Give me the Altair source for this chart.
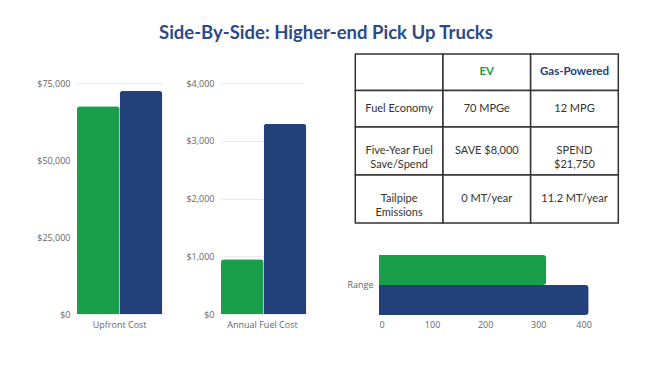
import altair as alt
import pandas as pd

# ---------------- data ----------------
fuels = ["EV", "Gas-Powered"]
fuel_colors = ["#199e49", "#22417b"]

upfront_cost = [67500, 72500]
upfront_ticks = [0, 25000, 50000, 75000]

annual_fuel_cost = [950, 3300]
annual_ticks = [0, 1000, 2000, 3000, 4000]

range_miles = [315, 395]
range_ticks = [0, 100, 200, 300, 400]

table_header = ["", "EV", "Gas-Powered"]
table_labels = ["Fuel Economy", "Five-Year Fuel\nSave/Spend", "Tailpipe\nEmissions"]
table_ev = ["70 MPGe", "SAVE $8,000", "0 MT/year"]
table_gas = ["12 MPG", "SPEND\n$21,750", "11.2 MT/year"]

title_text = "Side-By-Side: Higher-end Pick Up Trucks"

# ---------------- style ----------------
AXIS_FONT = "Open Sans"
TABLE_FONT = "Lato"
TITLE_COLOR = "#2b4a8b"
TEXT_COLOR = "#333333"
GRID_COLOR = "#ebebeb"
PANEL_H = 261
BAR_TOP = 29.3
BAR_BASE = 260

color_enc = alt.Color("fuel:N", scale=alt.Scale(domain=fuels, range=fuel_colors), legend=None)


def cost_chart(metric, values, ticks, band_w, group_w):
    df = pd.DataFrame({"metric": metric, "fuel": fuels, "value": values})
    return alt.Chart(df).mark_bar(cornerRadiusEnd=3).encode(
        x=alt.X("metric:N", title=None,
                scale=alt.Scale(paddingInner=0, paddingOuter=0, range=[0, band_w]),
                axis=alt.Axis(labelAngle=0, ticks=False, domain=False, labelPadding=5, grid=False)),
        xOffset=alt.XOffset("fuel:N", sort=fuels, scale=alt.Scale(paddingInner=0, paddingOuter=0)),
        y=alt.Y("value:Q", title=None,
                scale=alt.Scale(domain=[0, ticks[-1]], range=[BAR_BASE, BAR_TOP], nice=False),
                axis=alt.Axis(values=ticks, format="$,.0f", ticks=False, domain=False,
                              labelPadding=7, grid=True, gridColor=GRID_COLOR)),
        color=color_enc,
    ).properties(width=group_w, height=PANEL_H)


c1 = cost_chart("Upfront Cost", upfront_cost, upfront_ticks, 85.3, 85.3)
c2 = cost_chart("Annual Fuel Cost", annual_fuel_cost, annual_ticks, 83, 99.7)

# ---------------- table ----------------
rows = [table_header] + [[a, b, c] for a, b, c in zip(table_labels, table_ev, table_gas)]
row_lines = [max(s.count("\n") + 1 for s in row) for row in rows]
row_h = [25 + 11.5 * n for n in row_lines]
tops = [sum(row_h[:i]) for i in range(len(rows))]
total_h = sum(row_h)

header_colors = [TEXT_COLOR] + fuel_colors
cells = []
for r, row in enumerate(rows):
    for c, txt in enumerate(row):
        cells.append({
            "c0": c, "c1": c + 1, "cm": c + 0.5,
            "y0": tops[r], "y1": tops[r] + row_h[r], "ym": tops[r] + row_h[r] / 2,
            "text": txt, "header": r == 0,
            "tcolor": header_colors[c] if r == 0 else TEXT_COLOR,
        })
cells_df = pd.DataFrame(cells)

tx = alt.Scale(domain=[0, 3], range=[-23.7, 239.3])
ty = alt.Scale(domain=[0, total_h], range=[0, 169])

table_base = alt.Chart(cells_df)
rects = table_base.mark_rect(fill="white", stroke="#333333", strokeWidth=1.5).encode(
    x=alt.X("c0:Q", scale=tx, axis=None),
    x2="c1:Q",
    y=alt.Y("y0:Q", scale=ty, axis=None),
    y2="y1:Q",
)
body_text = table_base.transform_filter("!datum.header").mark_text(
    font=TABLE_FONT, fontSize=11, lineBreak="\n", lineHeight=14, baseline="middle"
).encode(
    x=alt.X("cm:Q", scale=tx, axis=None),
    y=alt.Y("ym:Q", scale=ty, axis=None),
    text="text:N",
    color=alt.Color("tcolor:N", scale=None),
)
head_text = table_base.transform_filter("datum.header").mark_text(
    font=TABLE_FONT, fontSize=11.5, fontWeight="bold", baseline="middle"
).encode(
    x=alt.X("cm:Q", scale=tx, axis=None),
    y=alt.Y("ym:Q", scale=ty, axis=None),
    text="text:N",
    color=alt.Color("tcolor:N", scale=None),
)
table = alt.layer(rects, body_text, head_text)

# ---------------- range ----------------
range_df = pd.DataFrame({"metric": "Range", "fuel": fuels, "miles": range_miles})
range_bars = alt.Chart(range_df).mark_bar(cornerRadiusEnd=3).encode(
    x=alt.X("miles:Q", title=None, scale=alt.Scale(domain=[0, 400], nice=False),
            axis=alt.Axis(orient="bottom", values=range_ticks, ticks=False, domain=False,
                          labelPadding=5, grid=True, gridColor=GRID_COLOR)),
    y=alt.Y("metric:N", title=None,
            scale=alt.Scale(range=[201, 261], paddingInner=0, paddingOuter=0),
            axis=alt.Axis(orient="left", ticks=False, domain=False, labelPadding=6)),
    yOffset=alt.YOffset("fuel:N", sort=fuels, scale=alt.Scale(paddingInner=0, paddingOuter=0)),
    color=color_enc,
)

c3 = alt.layer(table, range_bars).resolve_scale(x="independent", y="independent").properties(
    width=212.3, height=PANEL_H
)

chart = alt.hconcat(c1, c2, c3, spacing=58, bounds="flush").properties(
    title=alt.TitleParams(title_text, font=TABLE_FONT, fontSize=18.5, fontWeight="bold",
                          color=TITLE_COLOR, anchor="middle", dx=-2, offset=11),
    padding={"left": 28, "top": 15, "right": 5, "bottom": 5},
    background="white",
).configure_view(stroke=None).configure_axis(
    labelFont=AXIS_FONT, labelFontSize=9, labelColor="#666666"
)

chart.save("out.html", embed_options={"renderer": "svg", "actions": False})
